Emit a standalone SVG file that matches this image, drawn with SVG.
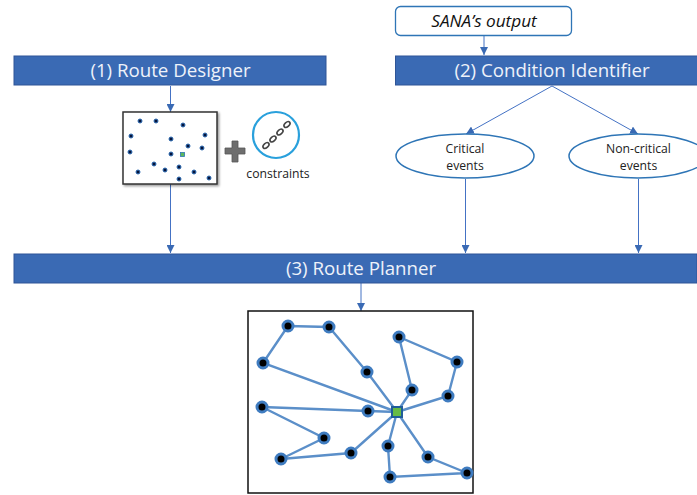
<svg xmlns="http://www.w3.org/2000/svg" width="697" height="495" viewBox="0 0 697 495">
<style>
.bar{fill:#3a6ab4;stroke:#2f5597;stroke-width:1}
.bt{font-family:"Open Sans","Noto Sans",sans-serif;font-size:18.700px;fill:#eef2fa;text-anchor:middle}
.t{font-family:"Open Sans","Noto Sans",sans-serif;font-size:12.200px;fill:#222;text-anchor:middle}
.c{stroke:#4472c4;stroke-width:1;fill:none;marker-end:url(#a)}
.ell{fill:#fff;stroke:#2e75b6;stroke-width:1.500}
.e{stroke:#5b8fc9;stroke-width:2.400;fill:none}
.n{fill:#000;stroke:#3f7cc0;stroke-width:3}
.d{fill:#04143c;stroke:#2e6db5;stroke-width:1}
</style>
<defs>
<marker id="a" markerUnits="userSpaceOnUse" markerWidth="9" markerHeight="8" refX="8" refY="4" orient="auto"><path d="M0 0L8 4L0 8Z" fill="#3a6ab4"/></marker>
<filter id="s" x="-5%" y="-5%" width="112%" height="112%"><feDropShadow dx="1.500" dy="1.500" stdDeviation="1.200" flood-color="#000" flood-opacity=".4"/></filter>
</defs>
<g id="connectors">
<path class="c" d="M484 36V55"/>
<path class="c" d="M170.500 86V112"/>
<path class="c" d="M170.500 184V253"/>
<path class="c" d="M552 86L466 134"/>
<path class="c" d="M552 86L638 134"/>
<path class="c" d="M465.500 179V253"/>
<path class="c" d="M638.500 179V253"/>
<path class="c" d="M361 283V311"/>
</g>
<g id="sana"><rect x="395.500" y="6.500" width="176" height="29" rx="5" fill="#fff" stroke="#2e75b6" stroke-width="1.300"/><text x="484" y="27" font-family="'Open Sans','Noto Sans',sans-serif" font-size="17.200" font-style="italic" fill="#111" text-anchor="middle">SANA’s output</text></g>
<g id="route-designer"><rect class="bar" x="14" y="56" width="312" height="29"/><text class="bt" x="170.500" y="77">(1) Route Designer</text></g>
<g id="condition-identifier"><rect class="bar" x="395.500" y="56" width="302" height="29"/><text class="bt" x="552" y="77">(2) Condition Identifier</text></g>
<g id="points-map">
<rect x="123" y="112" width="94" height="72" fill="#fff" stroke="#333" stroke-width="1.500" filter="url(#s)"/>
<circle class="d" cx="140" cy="121" r="2"/><circle class="d" cx="156" cy="121" r="2"/><circle class="d" cx="183" cy="125" r="2"/><circle class="d" cx="131" cy="136" r="2"/><circle class="d" cx="171" cy="139" r="2"/><circle class="d" cx="205" cy="135" r="2"/><circle class="d" cx="188" cy="146" r="2"/><circle class="d" cx="202" cy="148" r="2"/><circle class="d" cx="130" cy="152" r="2"/><circle class="d" cx="171" cy="154" r="2"/><circle class="d" cx="154" cy="164" r="2"/><circle class="d" cx="165" cy="170" r="2"/><circle class="d" cx="179" cy="167" r="2"/><circle class="d" cx="138" cy="172" r="2"/><circle class="d" cx="194" cy="172" r="2"/><circle class="d" cx="179" cy="179" r="2"/><circle class="d" cx="209" cy="178" r="2"/>
<rect x="180.500" y="152.500" width="4" height="4" fill="#5cb85c" stroke="#2e75b6" stroke-width=".8"/>
</g>
<g id="plus"><path d="M232 141h6v7h7v6h-7v8h-6v-8h-7v-6h7z" fill="#6e6e6e" stroke="#555" stroke-width=".8"/></g>
<g id="constraints">
<circle cx="276" cy="135" r="23" fill="#fff" stroke="#29a0dc" stroke-width="2.200"/>
<g fill="none" stroke="#444" stroke-width="1.600"><ellipse cx="266" cy="145.500" rx="3.500" ry="2.200" transform="rotate(-42 266 145.500)"/><ellipse cx="273" cy="139" rx="3.500" ry="2.200" transform="rotate(-42 273 139)"/><ellipse cx="280" cy="132" rx="3.500" ry="2.200" transform="rotate(-42 280 132)"/><ellipse cx="287" cy="124.500" rx="3.500" ry="2.200" transform="rotate(-42 287 124.500)"/></g>
<text class="t" x="278" y="178">constraints</text>
</g>
<g id="critical"><ellipse class="ell" cx="465" cy="156" rx="69" ry="22"/><text class="t" x="465" y="153">Critical</text><text class="t" x="465" y="170">events</text></g>
<g id="non-critical"><ellipse class="ell" cx="638" cy="156" rx="69" ry="22"/><text class="t" x="638.500" y="153">Non-critical</text><text class="t" x="638.500" y="170">events</text></g>
<g id="route-planner"><rect class="bar" x="14" y="254" width="683" height="29"/><text class="bt" x="361" y="275">(3) Route Planner</text></g>
<g id="route-map">
<rect x="248" y="311" width="225" height="182" fill="#fff" stroke="#111" stroke-width="1.500"/>
<path class="e" d="M397 412L367 372L329 327L288 326L263 363L397 412"/><path class="e" d="M397 412L412 390L399 337L457 362L448 396L397 412"/><path class="e" d="M397 412L368 411L262 407L324 438L281 459L351 453L397 412"/><path class="e" d="M397 412L388 446L390 477L467 473L428 457L397 412"/>
<circle class="n" cx="288" cy="326" r="5"/><circle class="n" cx="329" cy="327" r="5"/><circle class="n" cx="263" cy="363" r="5"/><circle class="n" cx="367" cy="372" r="5"/><circle class="n" cx="399" cy="337" r="5"/><circle class="n" cx="457" cy="362" r="5"/><circle class="n" cx="412" cy="390" r="5"/><circle class="n" cx="448" cy="396" r="5"/><circle class="n" cx="262" cy="407" r="5"/><circle class="n" cx="368" cy="411" r="5"/><circle class="n" cx="324" cy="438" r="5"/><circle class="n" cx="281" cy="459" r="5"/><circle class="n" cx="351" cy="453" r="5"/><circle class="n" cx="388" cy="446" r="5"/><circle class="n" cx="428" cy="457" r="5"/><circle class="n" cx="467" cy="473" r="5"/><circle class="n" cx="390" cy="477" r="5"/>
<rect x="392" y="407" width="10" height="10" fill="#66bb44" stroke="#1f5c99" stroke-width="2"/>
</g>
</svg>
